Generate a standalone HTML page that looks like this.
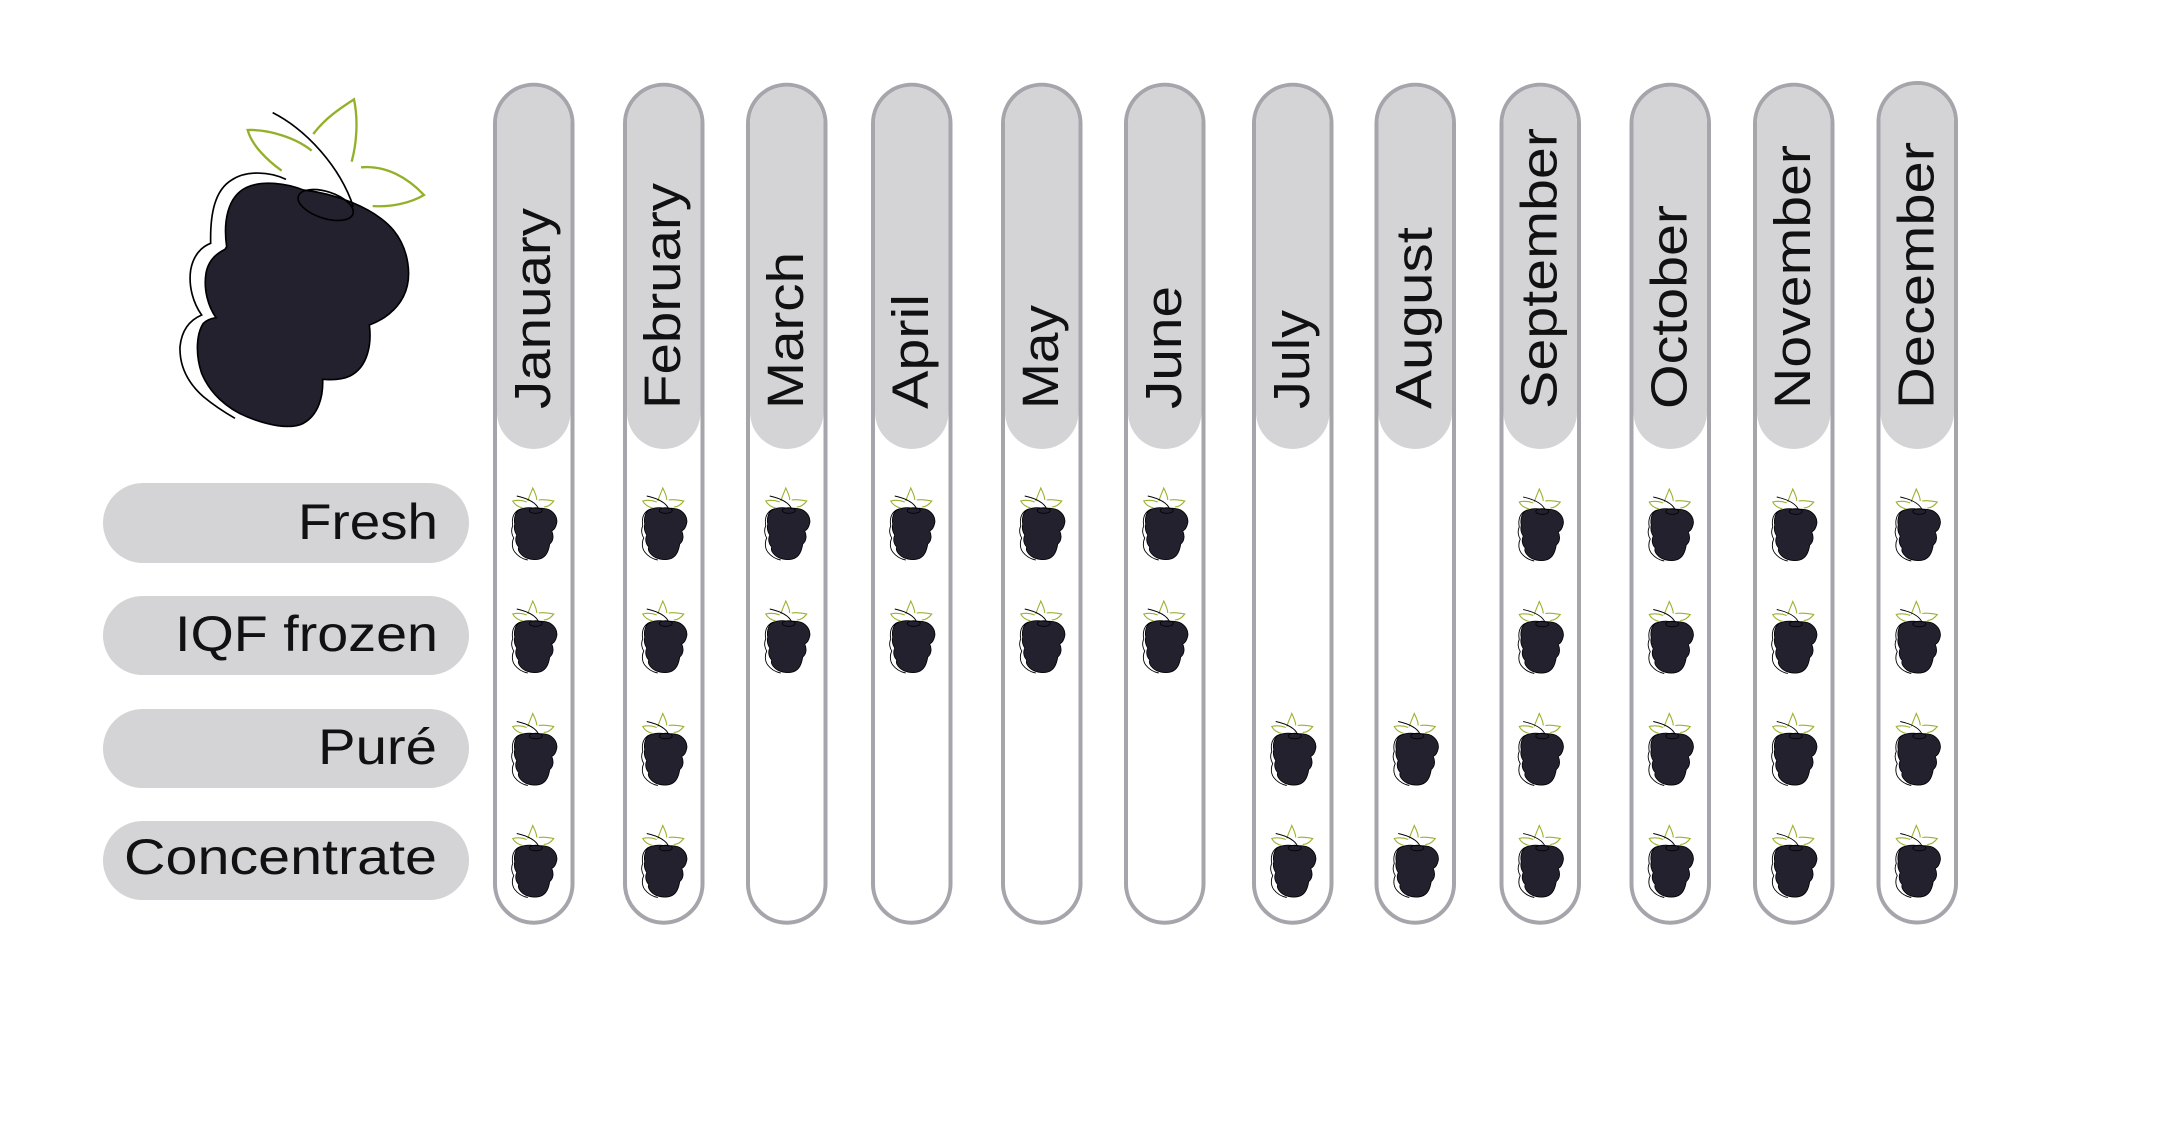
<!DOCTYPE html>
<html>
<head>
<meta charset="utf-8">
<style>
html,body{margin:0;padding:0;background:#fff;}
svg{display:block;}
text{font-family:"Liberation Sans",sans-serif;fill:#111;}
</style>
</head>
<body>
<svg width="2180" height="1124" viewBox="0 0 2180 1124" xmlns="http://www.w3.org/2000/svg">
<defs>
  <g id="berry">
    <path d="M-11,21 C-16,21 -20,25 -21,30 C-22,34 -21,37 -21,38 C-23,42 -22,47 -20,50 C-22,54 -22,60 -19,64 C-16,68 -11,71 -6,72" fill="none" stroke="#000" stroke-width="0.9"/>
    <path d="M-17,24 C-14,20 -6,19 0,20 C6,20 12,20 16,22 C21,25 24,30 23,35 C22,40 20,42 18,43 C20,47 20,53 16,56 C15,62 13,69 6,71 C0,72.5 -8,71 -12,67 C-15,64 -16,61 -15,59 C-18,56 -19,51 -17,47 C-19,44 -20,40 -19,36 C-20,32 -19,27 -17,24 Z" fill="#24212f" stroke="#000" stroke-width="0.8"/>
    <ellipse cx="2" cy="22.5" rx="6.5" ry="2.8" fill="none" stroke="#000" stroke-width="0.8"/>
    <path d="M-6,13 C-4,7 -2,3 -1,0 C1,4 3,8 3,12" fill="none" stroke="#9ab231" stroke-width="1.1"/>
    <path d="M-7,14 C-12,12 -17,12 -21,13 C-19,17 -15,19 -11,20" fill="none" stroke="#9ab231" stroke-width="1.1"/>
    <path d="M5,12 C10,11 15,12 20,13 C17,17 14,19 10,19" fill="none" stroke="#9ab231" stroke-width="1.1"/>
    <path d="M-17,8 C-8,10 2,14 5,21" fill="none" stroke="#000" stroke-width="0.9"/>
  </g>
</defs>

<!-- Big blackberry -->
<g transform="translate(160,90) scale(0.33333)">
  <path d="M378,268 C330,245 260,240 215,270 C165,300 150,370 152,460 C125,470 100,495 92,540 C85,590 100,640 125,675 C90,690 65,720 60,770 C58,830 85,880 130,920 C160,945 190,965 225,985" fill="none" stroke="#000" stroke-width="5"/>
  <path d="M200,470 C190,400 200,320 260,292 C310,270 380,280 430,300 C520,310 640,350 700,420 C745,475 760,560 730,620 C710,660 670,690 628,705 C635,760 625,830 570,858 C545,870 515,870 488,868 C490,920 475,975 430,1000 C390,1020 320,1005 260,980 C200,955 150,910 125,850 C105,790 110,730 130,700 C140,690 155,685 168,683 C145,650 130,600 138,550 C145,510 170,490 195,478 Z" fill="#24212f" stroke="#000" stroke-width="5"/>
  <ellipse cx="497" cy="345" rx="86" ry="40" transform="rotate(18 497 345)" fill="none" stroke="#000" stroke-width="5"/>
  <path d="M338,68 C440,120 540,230 580,350" fill="none" stroke="#000" stroke-width="5"/>
  <path d="M365,242 C320,210 275,165 263,120 C330,118 410,145 455,182" fill="none" stroke="#93b02a" stroke-width="7"/>
  <path d="M460,132 C495,85 540,55 582,28 C595,90 590,160 575,215" fill="none" stroke="#93b02a" stroke-width="7"/>
  <path d="M603,232 C680,225 745,265 792,315 C750,340 690,352 638,348" fill="none" stroke="#93b02a" stroke-width="7"/>
</g>

<!-- Row label pills -->
<rect x="103" y="483" width="366" height="80" rx="40" fill="#d4d4d6"/>
<rect x="103" y="596" width="366" height="79" rx="39.5" fill="#d4d4d6"/>
<rect x="103" y="709" width="366" height="79" rx="39.5" fill="#d4d4d6"/>
<rect x="103" y="821" width="366" height="79" rx="39.5" fill="#d4d4d6"/>
<text x="298" y="539" font-size="50" textLength="140" lengthAdjust="spacingAndGlyphs">Fresh</text>
<text x="175" y="651" font-size="50" textLength="263" lengthAdjust="spacingAndGlyphs">IQF frozen</text>
<text x="318" y="764" font-size="50" textLength="119" lengthAdjust="spacingAndGlyphs">Puré</text>
<text x="124" y="874" font-size="50" textLength="313" lengthAdjust="spacingAndGlyphs">Concentrate</text>

<!-- Columns -->
<g stroke="#a6a5ab" stroke-width="4" fill="#fff">
  <rect x="495" y="84.7" width="77.5" height="838" rx="38.75"/>
  <rect x="625" y="84.7" width="77.5" height="838" rx="38.75"/>
  <rect x="748" y="84.7" width="77.5" height="838" rx="38.75"/>
  <rect x="873" y="84.7" width="77.5" height="838" rx="38.75"/>
  <rect x="1003" y="84.7" width="77.5" height="838" rx="38.75"/>
  <rect x="1126" y="84.7" width="77.5" height="838" rx="38.75"/>
  <rect x="1254" y="84.7" width="77.5" height="838" rx="38.75"/>
  <rect x="1376.5" y="84.7" width="77.5" height="838" rx="38.75"/>
  <rect x="1501.5" y="84.7" width="77.5" height="838" rx="38.75"/>
  <rect x="1631.5" y="84.7" width="77.5" height="838" rx="38.75"/>
  <rect x="1755" y="84.7" width="77.5" height="838" rx="38.75"/>
  <rect x="1878.5" y="83" width="77.5" height="839.5" rx="38.75"/>
</g>
<g fill="#d4d4d7">
  <rect x="497" y="86.7" width="73.5" height="362.3" rx="36.75"/>
  <rect x="627" y="86.7" width="73.5" height="362.3" rx="36.75"/>
  <rect x="750" y="86.7" width="73.5" height="362.3" rx="36.75"/>
  <rect x="875" y="86.7" width="73.5" height="362.3" rx="36.75"/>
  <rect x="1005" y="86.7" width="73.5" height="362.3" rx="36.75"/>
  <rect x="1128" y="86.7" width="73.5" height="362.3" rx="36.75"/>
  <rect x="1256" y="86.7" width="73.5" height="362.3" rx="36.75"/>
  <rect x="1378.5" y="86.7" width="73.5" height="362.3" rx="36.75"/>
  <rect x="1503.5" y="86.7" width="73.5" height="362.3" rx="36.75"/>
  <rect x="1633.5" y="86.7" width="73.5" height="362.3" rx="36.75"/>
  <rect x="1757" y="86.7" width="73.5" height="362.3" rx="36.75"/>
  <rect x="1880.5" y="85" width="73.5" height="364" rx="36.75"/>
</g>

<!-- Month labels -->
<g font-size="51">
  <text transform="translate(549.75,409) rotate(-90)" textLength="201" lengthAdjust="spacingAndGlyphs">January</text>
  <text transform="translate(679.75,409) rotate(-90)" textLength="226" lengthAdjust="spacingAndGlyphs">February</text>
  <text transform="translate(802.75,409) rotate(-90)" textLength="157" lengthAdjust="spacingAndGlyphs">March</text>
  <text transform="translate(927.75,409) rotate(-90)" textLength="115" lengthAdjust="spacingAndGlyphs">April</text>
  <text transform="translate(1057.75,409) rotate(-90)" textLength="104" lengthAdjust="spacingAndGlyphs">May</text>
  <text transform="translate(1180.75,409) rotate(-90)" textLength="123" lengthAdjust="spacingAndGlyphs">June</text>
  <text transform="translate(1308.75,409) rotate(-90)" textLength="99" lengthAdjust="spacingAndGlyphs">July</text>
  <text transform="translate(1431.25,409) rotate(-90)" textLength="182" lengthAdjust="spacingAndGlyphs">August</text>
  <text transform="translate(1556.25,409) rotate(-90)" textLength="281" lengthAdjust="spacingAndGlyphs">September</text>
  <text transform="translate(1686.25,409) rotate(-90)" textLength="204" lengthAdjust="spacingAndGlyphs">October</text>
  <text transform="translate(1809.75,409) rotate(-90)" textLength="264" lengthAdjust="spacingAndGlyphs">November</text>
  <text transform="translate(1933.25,409) rotate(-90)" textLength="267" lengthAdjust="spacingAndGlyphs">December</text>
</g>

<!-- Icons: rows tops 488, 601, 713.5, 825.5 -->
<!-- January -->
<use href="#berry" transform="translate(533.75,488)"/>
<use href="#berry" transform="translate(533.75,601)"/>
<use href="#berry" transform="translate(533.75,713.5)"/>
<use href="#berry" transform="translate(533.75,825.5)"/>
<!-- February -->
<use href="#berry" transform="translate(663.75,488)"/>
<use href="#berry" transform="translate(663.75,601)"/>
<use href="#berry" transform="translate(663.75,713.5)"/>
<use href="#berry" transform="translate(663.75,825.5)"/>
<!-- March -->
<use href="#berry" transform="translate(786.75,488)"/>
<use href="#berry" transform="translate(786.75,601)"/>
<!-- April -->
<use href="#berry" transform="translate(911.75,488)"/>
<use href="#berry" transform="translate(911.75,601)"/>
<!-- May -->
<use href="#berry" transform="translate(1041.75,488)"/>
<use href="#berry" transform="translate(1041.75,601)"/>
<!-- June -->
<use href="#berry" transform="translate(1164.75,488)"/>
<use href="#berry" transform="translate(1164.75,601)"/>
<!-- July -->
<use href="#berry" transform="translate(1292.75,713.5)"/>
<use href="#berry" transform="translate(1292.75,825.5)"/>
<!-- August -->
<use href="#berry" transform="translate(1415.25,713.5)"/>
<use href="#berry" transform="translate(1415.25,825.5)"/>
<!-- September -->
<use href="#berry" transform="translate(1540.25,489)"/>
<use href="#berry" transform="translate(1540.25,601.5)"/>
<use href="#berry" transform="translate(1540.25,713.5)"/>
<use href="#berry" transform="translate(1540.25,825.5)"/>
<!-- October -->
<use href="#berry" transform="translate(1670.25,489)"/>
<use href="#berry" transform="translate(1670.25,601.5)"/>
<use href="#berry" transform="translate(1670.25,713.5)"/>
<use href="#berry" transform="translate(1670.25,825.5)"/>
<!-- November -->
<use href="#berry" transform="translate(1793.75,489)"/>
<use href="#berry" transform="translate(1793.75,601.5)"/>
<use href="#berry" transform="translate(1793.75,713.5)"/>
<use href="#berry" transform="translate(1793.75,825.5)"/>
<!-- December -->
<use href="#berry" transform="translate(1917.25,489)"/>
<use href="#berry" transform="translate(1917.25,601.5)"/>
<use href="#berry" transform="translate(1917.25,713.5)"/>
<use href="#berry" transform="translate(1917.25,825.5)"/>
</svg>
</body>
</html>
